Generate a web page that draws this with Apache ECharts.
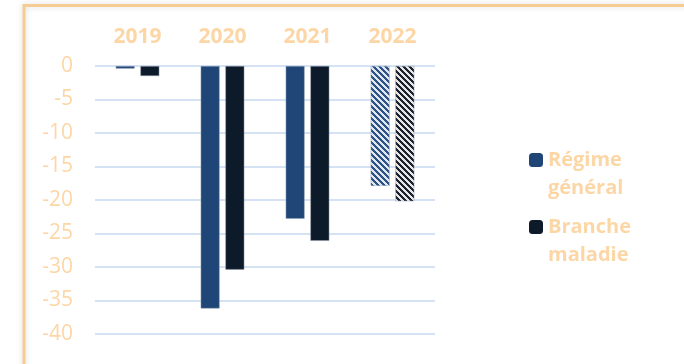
<!DOCTYPE html>
<html>
<head>
<meta charset="utf-8">
<script src="https://cdn.jsdelivr.net/npm/echarts@6/dist/echarts.min.js"></script>
<style>
  html, body { margin: 0; padding: 0; background: #fff; }
  #app { width: 684px; height: 364px; }
</style>
</head>
<body>
<div id="app"></div>
<script>
// soldes en milliards d'euros
const years = ['2019', '2020', '2021', '2022']
const regimeGeneral = [-0.4, -36.2, -22.8, -17.9]
const brancheMaladie = [-1.5, -30.4, -26.1, -20.2]
const forecastYears = ['2022'] // barres hachurées (prévision)
const seriesNames = ['Régime\ngénéral', 'Branche\nmaladie']

const labelColor = '#fdd6a6'
const blue = '#1f4677'
const navy = '#0c1a2a'

// petit motif de hachures "\\\"
function stripes (dark, light) {
  const n = 6
  const c = document.createElement('canvas')
  c.width = n; c.height = n
  const ctx = c.getContext('2d')
  for (let x = 0; x < n; x++) {
    for (let y = 0; y < n; y++) {
      const k = ((x - y) % n + n) % n
      ctx.fillStyle = k < 3 ? dark : light
      ctx.fillRect(x, y, 1, 1)
    }
  }
  return { image: c, repeat: 'repeat' }
}

function withPattern (values, dark, light) {
  return values.map((v, i) => {
    if (forecastYears.indexOf(years[i]) < 0) return v
    return { value: v, itemStyle: { color: stripes(dark, light) } }
  })
}

const chart = echarts.init(document.getElementById('app'), null, { renderer: 'canvas' })

// une ligne vide en tête pour que l'icône soit alignée sur la 1re ligne
const legendText = {
  color: labelColor,
  fontFamily: 'Open Sans',
  fontWeight: 'bold',
  fontSize: 20,
  lineHeight: 28,
  rich: { sp: { fontSize: 20, lineHeight: 28 } }
}
const legendBase = {
  left: 529, padding: 0, itemWidth: 14, itemHeight: 14, itemGap: 6,
  itemStyle: { borderWidth: 0 },
  textStyle: legendText,
  formatter: name => '{sp| }\n' + name
}

chart.setOption({
  animation: false,
  graphic: [{
    type: 'rect',
    shape: { x: 24, y: 5.5, width: 720, height: 420 },
    style: { fill: 'none', stroke: '#f6cc95', lineWidth: 3, shadowBlur: 6, shadowColor: 'rgba(0,0,0,0.15)' },
    z: -1
  }],
  grid: { left: 95, right: 249, top: 66, bottom: 30 },
  legend: [
    Object.assign({ data: [seriesNames[0]], top: 118 }, legendBase),
    Object.assign({ data: [seriesNames[1]], top: 185 }, legendBase)
  ],
  xAxis: {
    type: 'category',
    data: years,
    position: 'top',
    axisLine: { show: false },
    axisTick: { show: false },
    axisLabel: {
      color: labelColor, fontFamily: 'Open Sans', fontWeight: 'bold', fontSize: 21, margin: 18
    }
  },
  yAxis: {
    type: 'value',
    min: -40, max: 0, interval: 5,
    axisLine: { show: false },
    axisTick: { show: false },
    axisLabel: { color: labelColor, fontFamily: 'Open Sans', fontSize: 21, margin: 22 },
    splitLine: { lineStyle: { color: '#d5e2f3', width: 2 } }
  },
  series: [
    {
      name: seriesNames[0], type: 'bar',
      data: withPattern(regimeGeneral, '#2c5288', '#dfe6ef'),
      barWidth: 19, barGap: '30%',
      itemStyle: { color: blue, borderColor: 'rgba(150,165,185,0.8)', borderWidth: 0.6 }
    },
    {
      name: seriesNames[1], type: 'bar',
      data: withPattern(brancheMaladie, '#1b2230', '#e6e6e6'),
      barWidth: 19,
      itemStyle: { color: navy, borderColor: 'rgba(150,160,175,0.8)', borderWidth: 0.6 }
    }
  ]
})
</script>
</body>
</html>
